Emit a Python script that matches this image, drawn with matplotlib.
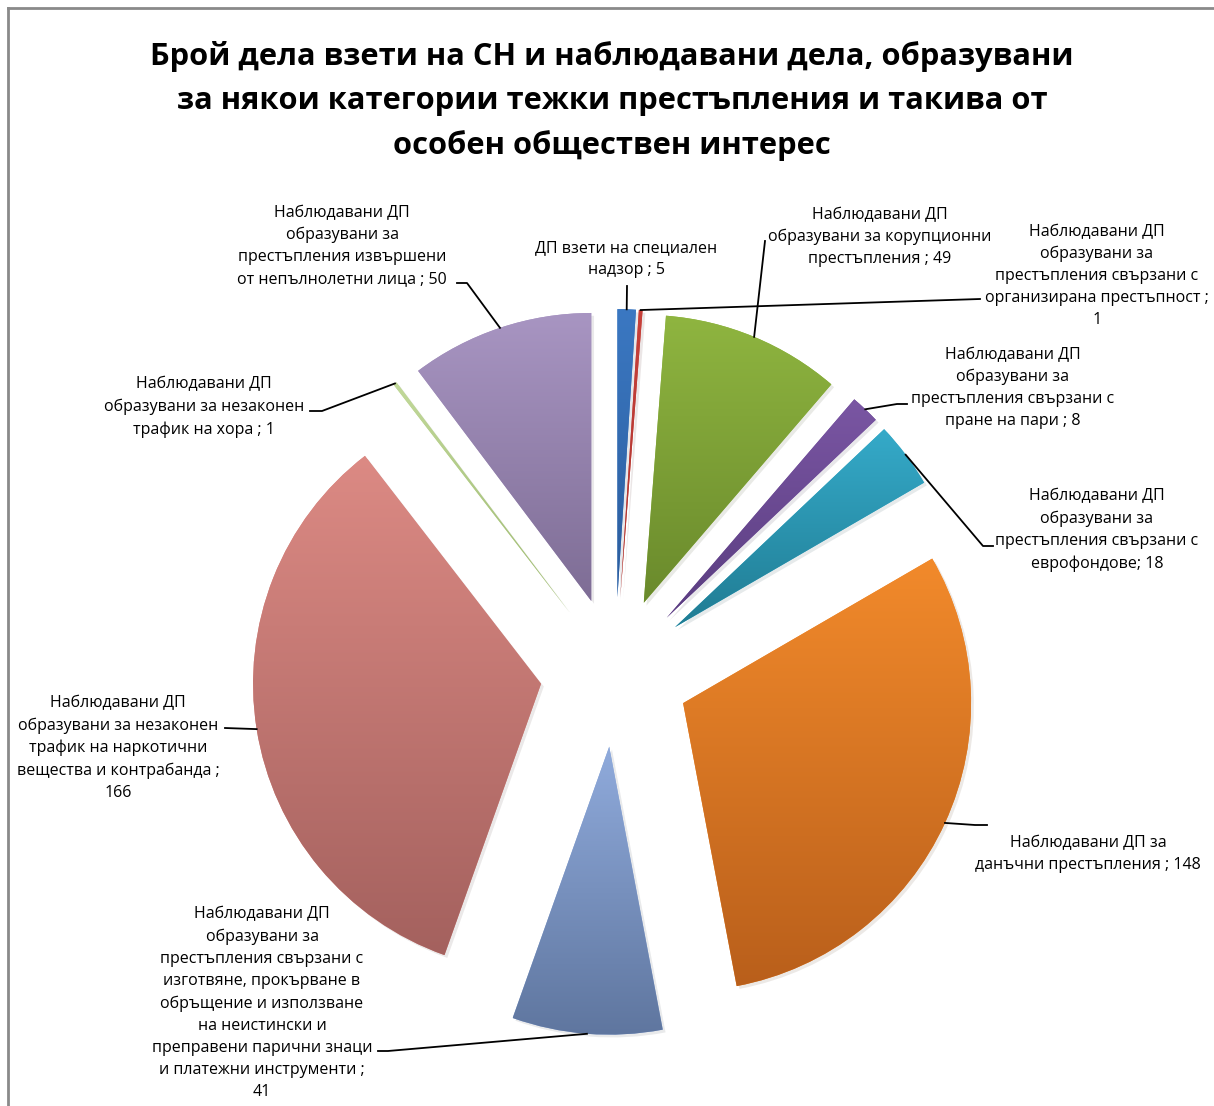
import numpy as np
import matplotlib
matplotlib.use("Agg")
import matplotlib.pyplot as plt
import matplotlib.patheffects as pe
from matplotlib.colors import to_rgba

plt.rcParams['font.family'] = ['Open Sans', 'DejaVu Sans']

# Data
labels = [
    "ДП взети на специален\nнадзор ; 5",
    "Наблюдавани ДП\nобразувани за\nпрестъпления свързани с\nорганизирана престъпност ;\n1",
    "Наблюдавани ДП\nобразувани за корупционни\nпрестъпления ; 49",
    "Наблюдавани ДП\nобразувани за\nпрестъпления свързани с\nпране на пари ; 8",
    "Наблюдавани ДП\nобразувани за\nпрестъпления свързани с\nеврофондове; 18",
    "Наблюдавани ДП за\nданъчни престъпления ; 148",
    "Наблюдавани ДП\nобразувани за\nпрестъпления свързани с\nизготвяне, прокърване в\nобръщение и използване\nна неистински и\nпреправени парични знаци\nи платежни инструменти ;\n41",
    "Наблюдавани ДП\nобразувани за незаконен\nтрафик на наркотични\nвещества и контрабанда ;\n166",
    "Наблюдавани ДП\nобразувани за незаконен\nтрафик на хора ; 1",
    "Наблюдавани ДП\nобразувани за\nпрестъпления извършени\nот непълнолетни лица ; 50",
]
values = [5, 1, 49, 8, 18, 148, 41, 166, 1, 50]

top_colors = ["#3b78c2", "#c8403a", "#8fb540", "#7a56a3", "#35aac9",
              "#f28a2b", "#90abdc", "#dc8a84", "#c2d99a", "#a895c2"]
bottom_colors = ["#2b5c9c", "#a83530", "#6a8a2c", "#5a3d80", "#207c93",
                 "#b95f1b", "#5f769f", "#a4615e", "#9cb870", "#7e6d95"]

title = ("Брой дела взети на СН и наблюдавани дела, образувани\n"
         "за някои категории тежки престъпления и такива от\n"
         "особен обществен интерес")

# Layout (pixels of the 1214x1106 canvas)
W, H = 1214, 1106
CX, CY, R = 615, 672, 288


def px(x, y):
    return (x - CX) / R, (CY - y) / R


label_pos = [(626, 259), (1097, 276), (880, 237), (1013, 388), (1097, 530),
             (1088, 854), (262, 1003), (118, 748), (204, 407), (342, 246)]
leader_start = [(627, 286), (980, 299), (765, 241), (907, 404), (993, 546),
                (987, 825), (378, 1051), (225, 728), (310, 411), (457, 283)]
stub = [0, 0, 0, 10, 10, 12, 10, 0, 12, 10]

fig = plt.figure(figsize=(W / 100, H / 100), dpi=100)
ax = fig.add_axes([0, 0, 1, 1])

explode = [0.26] * len(values)
wedges, _ = ax.pie(values, startangle=90, counterclock=False, radius=1,
                   explode=explode, colors=top_colors,
                   wedgeprops=dict(linewidth=0))

for w, c_top, c_bot in zip(wedges, top_colors, bottom_colors):
    w.set_path_effects([pe.SimplePatchShadow(offset=(2, -2), alpha=0.1),
                        pe.Normal()])
    ext = w.get_path().get_extents()
    t = np.linspace(0, 1, 256)[:, None]
    a = np.array(to_rgba(c_bot))
    b = np.array(to_rgba(c_top))
    grad = (a + (b - a) * t)[:, None, :]
    im = ax.imshow(grad, extent=[ext.x0, ext.x1, ext.y0, ext.y1],
                   origin='lower', aspect='auto', interpolation='bilinear',
                   zorder=w.get_zorder() + 0.1)
    im.set_clip_path(w)

# labels and leader lines
total = sum(values)
cum = 0
for i, (w, v) in enumerate(zip(wedges, values)):
    mid = np.deg2rad(90 - (cum + v / 2) / total * 360)
    cum += v
    off = 1 + explode[i]
    ax_x, ax_y = off * np.cos(mid), off * np.sin(mid)
    sx, sy = px(*leader_start[i])
    pts_x, pts_y = [sx], [sy]
    if stub[i]:
        direction = 1 if ax_x > sx else -1
        pts_x.append(sx + direction * stub[i] / R)
        pts_y.append(sy)
    pts_x.append(ax_x)
    pts_y.append(ax_y)
    ax.plot(pts_x, pts_y, color='black', lw=1.3, zorder=5)
    lx, ly = px(*label_pos[i])
    ax.text(lx, ly, labels[i], ha='center', va='center', multialignment='center',
            fontsize=11.5, linespacing=1.5, color='black', zorder=6)

ax.set_xlim(-CX / R, (W - CX) / R)
ax.set_ylim(-(H - CY) / R, CY / R)
ax.set_aspect('auto')
ax.axis('off')

fig.text(612 / W, 1 - 101 / H, title, ha='center', va='center',
         fontsize=22.2, fontweight='bold', linespacing=1.58)

# chart area frame
fig.add_artist(plt.Line2D([8 / W, 1], [1 - 8 / H, 1 - 8 / H], color='#8a8a8a', lw=2))
fig.add_artist(plt.Line2D([8 / W, 8 / W], [1 - 8 / H, 0], color='#8a8a8a', lw=2))

fig.savefig("out.png", dpi=100)
